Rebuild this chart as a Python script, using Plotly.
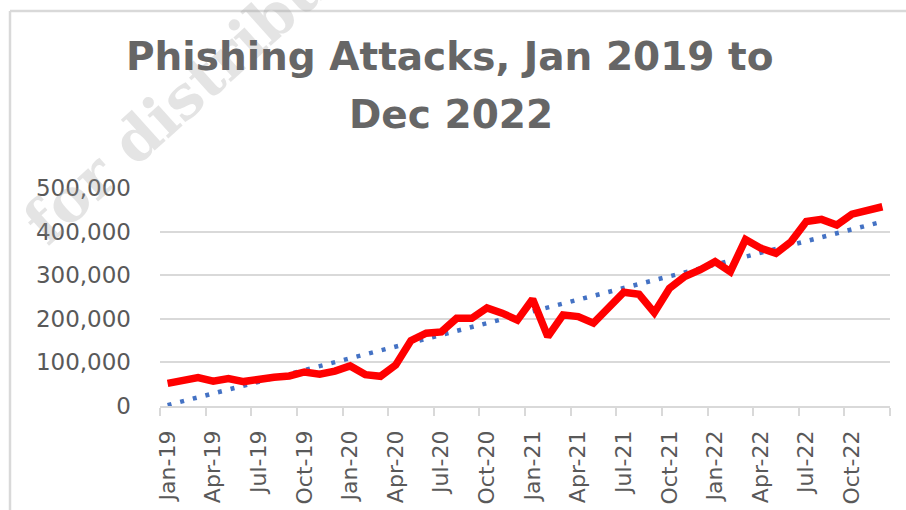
import numpy as np
import plotly.graph_objects as go

# ---- data ----
months = ["Jan-19", "Feb-19", "Mar-19", "Apr-19", "May-19", "Jun-19", "Jul-19", "Aug-19", "Sep-19", "Oct-19", "Nov-19", "Dec-19",
          "Jan-20", "Feb-20", "Mar-20", "Apr-20", "May-20", "Jun-20", "Jul-20", "Aug-20", "Sep-20", "Oct-20", "Nov-20", "Dec-20",
          "Jan-21", "Feb-21", "Mar-21", "Apr-21", "May-21", "Jun-21", "Jul-21", "Aug-21", "Sep-21", "Oct-21", "Nov-21", "Dec-21",
          "Jan-22", "Feb-22", "Mar-22", "Apr-22", "May-22", "Jun-22", "Jul-22", "Aug-22", "Sep-22", "Oct-22", "Nov-22", "Dec-22"]
attacks = [52000, 58000, 65000, 57000, 63000, 56000, 62000, 66000, 69000, 78000, 73000, 80000,
           92000, 72000, 68000, 94000, 150000, 167000, 170000, 201000, 201000, 225000, 213000, 197000,
           245000, 159000, 209000, 205000, 190000, 228000, 261000, 256000, 214000, 270000, 297000, 312000,
           331000, 308000, 382000, 362000, 350000, 377000, 423000, 428000, 415000, 440000, 450000, 457000]
y_ticks = [0, 100000, 200000, 300000, 400000, 500000]
y_ticktext = ["0", "100,000", "200,000", "300,000", "400,000", "500,000"]
label_every = 3

x = np.arange(len(months))
slope, intercept = np.polyfit(x, attacks, 1)
trend = slope * x + intercept

GRAY_TXT = "#595959"
GRID = "#d9d9d9"

fig = go.Figure()
fig.add_trace(go.Scatter(x=x, y=trend, mode="lines",
                         line=dict(color="#4472C4", width=4.5, dash="4px,9px"),
                         hoverinfo="skip", showlegend=False))
fig.add_trace(go.Scatter(x=x, y=attacks, mode="lines",
                         line=dict(color="#FF0000", width=7.5),
                         showlegend=False))

tick_idx = list(range(0, len(months), label_every))
fig.update_xaxes(
    range=[-0.5, len(months) - 0.5], automargin=False,
    tickmode="array", tickvals=tick_idx, ticktext=[months[i] for i in tick_idx],
    tickangle=-90, ticks="", ticklabelstandoff=14,
    tickfont=dict(family="DejaVu Sans", size=22, color=GRAY_TXT),
    showgrid=False, zeroline=False,
    showline=True, linecolor=GRID, linewidth=1.5,
    minor=dict(tick0=-0.5, dtick=label_every, ticks="outside", ticklen=8,
               tickcolor=GRID, tickwidth=1.5, showgrid=False),
)
fig.update_yaxes(
    range=[0, 500000], automargin=False, tickmode="array", tickvals=y_ticks, ticktext=y_ticktext,
    ticks="", ticklabelstandoff=28,
    tickfont=dict(family="DejaVu Sans", size=23, color=GRAY_TXT),
    showgrid=True, gridcolor=GRID, gridwidth=1.5,
    zeroline=False, showline=False,
)

# plot area geometry (px): x 160..890, y 188..406
L, R, T, B = 160, 16, 188, 104
PW, PH = 906 - L - R, 510 - T - B
def px(xp):
    return (xp - L) / PW
def py(yp):
    return (510 - B - yp) / PH

annotations = [
    dict(text="for distribution", x=px(226), y=py(58), xref="paper", yref="paper",
         xanchor="center", yanchor="middle", showarrow=False, textangle=-42,
         font=dict(family="DejaVu Serif", size=60, weight="bold", color="rgba(150,150,150,0.26)")),
    dict(text="Phishing Attacks, Jan 2019 to", x=px(450), y=py(56), xref="paper", yref="paper",
         xanchor="center", yanchor="middle", showarrow=False,
         font=dict(family="DejaVu Sans", size=39, weight="bold", color="#666666")),
    dict(text="Dec 2022", x=px(451), y=py(115), xref="paper", yref="paper",
         xanchor="center", yanchor="middle", showarrow=False,
         font=dict(family="DejaVu Sans", size=39, weight="bold", color="#666666")),
]

shapes = [
    dict(type="line", xref="paper", yref="paper", x0=px(10), x1=px(1000), y0=py(11), y1=py(11),
         line=dict(color=GRID, width=2.5)),
    dict(type="line", xref="paper", yref="paper", x0=px(10), x1=px(10), y0=py(11), y1=py(600),
         line=dict(color=GRID, width=2.5)),
]

fig.update_layout(
    width=906, height=510,
    margin=dict(l=L, r=R, t=T, b=B),
    paper_bgcolor="white", plot_bgcolor="white",
    annotations=annotations, shapes=shapes,
    showlegend=False,
)

fig.write_html("out.html")
